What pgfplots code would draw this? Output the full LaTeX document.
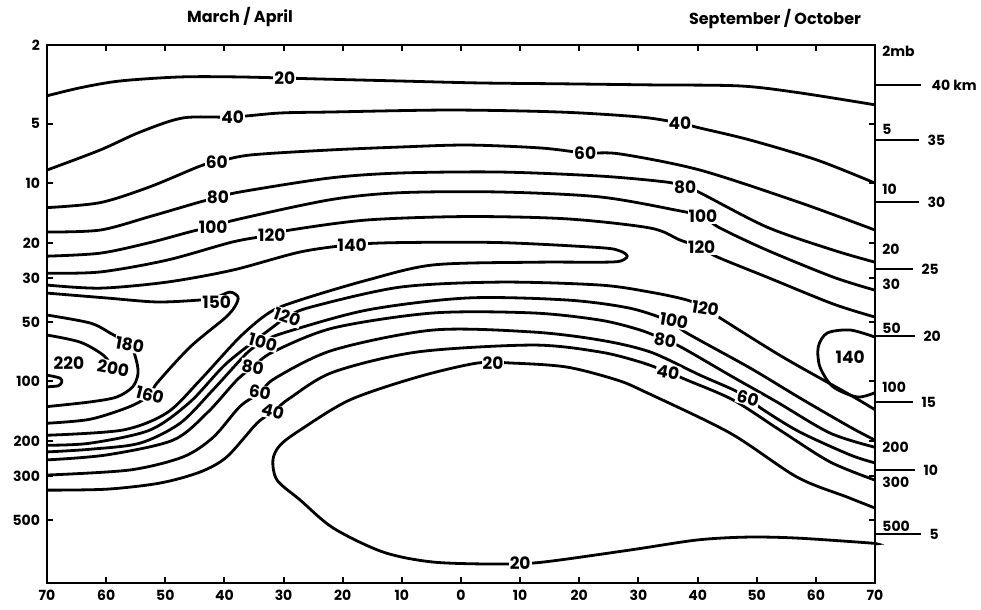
\documentclass[border=0pt]{standalone}
\usepackage{fontspec}
\setmainfont{Poppins}
\usepackage{pgfplots}
\pgfplotsset{compat=1.18}
\tikzset{
 lab/.style={fill=white, inner sep=0.5pt, font=\fontsize{8.5}{10}\selectfont\bfseries},
 rl/.style={anchor=west, inner sep=0pt, xshift=3.5pt, yshift=-3pt, font=\fontsize{7}{8}\selectfont\bfseries},
 km/.style={anchor=west, inner sep=0pt, xshift=4pt, font=\fontsize{7}{8}\selectfont\bfseries},
}
\begin{document}
\begin{tikzpicture}
\useasboundingbox (-23.5pt,-13.5pt) rectangle (467pt,291.5pt);
\begin{axis}[
 scale only axis, width=414pt, height=269pt,
 xmin=-70, xmax=70, ymode=log, ymin=2, ymax=1042, y dir=reverse,
 xtick={-70,-60,...,70}, xticklabels={70,60,50,40,30,20,10,0,10,20,30,40,50,60,70},
 ytick={2,5,10,20,30,50,100,200,300,500}, yticklabels={2,5,10,20,30,50,100,200,300,500},
 yminorticks=false,
 tick align=inside, xtick pos=both, ytick pos=both,
 major tick length=3pt,
 axis line style={line width=1.4pt}, tick style={line width=1pt,black},
 ticklabel style={font=\fontsize{7}{8}\selectfont\bfseries},
 /pgf/number format/assume math mode=true,
 clip=false,
 cycle list={{black,solid}},
 every axis plot/.append style={line width=1.4pt, smooth, black, solid, no markers},
]
% upper family
\addplot coordinates {(-70,3.61) (-64.4,3.29) (-57.7,3.04) (-47.5,2.90) (-37.4,2.90) (-23.8,2.97) (-10.3,3.04) (3.2,3.11) (16.7,3.14) (32.0,3.18) (47.2,3.22) (57.3,3.49) (70,4.01)};
\addplot coordinates {(-70,8.56) (-61.0,6.78) (-54.3,5.51) (-47.0,4.67) (-38.6,4.62) (-30.6,4.41) (-22.2,4.36) (-1.9,4.26) (16.7,4.36) (30.3,4.62) (37.0,4.96) (40.4,5.25) (48.9,6.04) (60.2,7.62) (70,9.96)};
\addplot coordinates {(-70,13.25) (-61.0,12.5) (-52.6,10.4) (-44.1,8.17) (-41.3,7.80) (-35.7,7.19) (-22.2,6.78) (-10.3,6.55) (1.0,6.40) (13.4,6.62) (21.0,7.02) (26.9,7.10) (40.4,8.56) (57.3,12.5) (70,17.2)};
\addplot coordinates {(-70,17.6) (-61.0,17.2) (-52.6,14.7) (-44.1,12.4) (-41.1,11.8) (-37.4,11.05) (-22.2,9.39) (-10.3,8.86) (6.6,8.76) (23.5,9.18) (34.8,9.85) (37.9,10.44) (40.4,11.14) (51.7,16.6) (62.9,21.7) (70,25.0)};
\addplot coordinates {(-70,23.3) (-61.0,22.5) (-52.6,19.9) (-45.3,17.4) (-41.9,16.6) (-38.2,15.3) (-22.2,12.1) (-10.3,11.14) (6.6,11.05) (23.5,11.7) (37.0,13.76) (40.9,14.7) (43.8,16.8) (51.7,21.7) (62.9,29.7) (70,34.6)};
\addplot coordinates {(-70,28.4) (-61.0,28.0) (-49.7,24.4) (-38.6,19.75) (-32.0,18.2) (-28.9,17.2) (-15.9,15.3) (1.0,14.7) (17.9,15.1) (32.0,16.8) (37.0,19.3) (40.7,21.1) (43.3,23.5) (51.7,29.7) (62.9,40.6) (70,47.3)};
% 140 tongue
\addplot coordinates {(-70,32.6) (-61.0,33.8) (-49.7,31.5) (-38.6,27.4) (-27.2,22.2) (-18.4,20.4) (-10.3,19.9) (6.6,19.9) (23.5,21.1) (26.9,21.95) (28.1,23.3) (26.9,24.7) (23.5,25.0) (12.2,25.0) (-4.7,25.8) (-15.9,30.8) (-27.2,38.8) (-32.3,44.7) (-37.4,59.7) (-44.1,98.4) (-49.7,143.9) (-57.2,176) (-70,187)};
% 150/160
\addplot coordinates {(-70,35.8) (-59.9,37.9) (-51.4,39.7) (-44.1,38.8) (-41.6,37.9) (-39.1,35.4) (-37.7,37.5) (-38.2,41.7) (-39.9,47.8) (-45.8,67.0) (-51.4,101.9) (-52.6,117) (-56.0,134) (-62.7,155.2) (-70,162.6)};
% 180, 200, 220
\addplot coordinates {(-70,46.2) (-62.7,50.7) (-59.3,57.0) (-56.0,65.5) (-55.0,76.2) (-54.6,90.7) (-55.5,106.4) (-58.2,119.8) (-62.7,126.9) (-70,134)};
\addplot coordinates {(-70,58.3) (-64.4,63.3) (-60.5,73.6) (-58.8,85.6)};
\addplot coordinates {(-70,92.9) (-67.8,96.2) (-67.5,100.8) (-68.1,105.2) (-70,106.4)};
% lower family
\addplot coordinates {(-70,210) (-62.7,205) (-52.6,176) (-45.8,126.9) (-39.6,80.8) (-31.8,53.1) (-29.4,47.3) (-25.5,42.2) (-10.3,33.4) (6.6,31.5) (23.5,32.6) (32.0,35.4) (38.2,38.8) (41.3,42.7) (43.8,47.8) (54.4,75.3) (65.8,117) (70,139)};
\addplot coordinates {(-70,227) (-62.7,220) (-54.3,205) (-47.5,162.6) (-41.9,110) (-36.2,71.9) (-33.5,63.3) (-30.1,57.0) (-15.9,43.6) (1.0,37.9) (17.9,38.8) (28.6,42.7) (35.7,50.2) (38.2,57.0) (48.9,85.6) (57.3,121.2) (65.8,170) (70,198)};
\addplot coordinates {(-70,249) (-59.9,235) (-48.7,198) (-42.9,143.9) (-37.9,98.4) (-35.2,84.6) (-31.8,71.0) (-21.6,53.7) (-4.7,45.1) (12.2,45.1) (23.5,49.0) (30.3,55.0) (34.5,61.8) (37.5,67.8) (46.0,95.1) (53.4,126.9) (62.4,182.3) (70,215)};
\addplot coordinates {(-70,297) (-56.0,280) (-47.0,240.5) (-41.9,191.5) (-37.4,134) (-34.0,113.9) (-31.4,96.2) (-21.6,69.4) (-4.7,55.0) (12.2,56.3) (23.5,61.8) (32.0,71.0) (40.4,92.9) (46.0,110) (48.5,121.2) (51.1,139) (57.3,180.2) (65.8,235) (70,257.8)};
\addplot coordinates {(-70,354) (-59.9,350) (-50.9,326) (-44.1,286.6) (-39.6,240.5) (-34.5,162.6) (-31.8,142.3) (-28.9,121.2) (-21.6,89.7) (-7.4,71.0) (12.2,65.5) (23.5,71.0) (30.3,79.8) (35.0,89.7) (38.2,98.4) (46.0,124) (53.9,176) (62.4,254.9) (70,315)};
% 20 minimum
\addplot coordinates {(70,436) (65.3,383.8) (56.8,304) (45.5,182.3) (31.4,113.9) (26.4,98.4) (17.9,84.6) (8.8,80.8) (2.7,80.8) (-7.4,95.1) (-18.8,124) (-27.2,176) (-30.6,210) (-31.8,249) (-31.1,315) (-27.2,397) (-21.6,549.9) (-13.2,726.7) (-4.7,816.8) (6.6,836) (13.9,816.8) (28.6,710) (39.9,632) (48.4,611) (56.8,618) (69.2,654.6) (70,662)};
% 140 right
\addplot coordinates {(70,59.7) (65.8,55.0) (61.9,57.0) (60.4,67.0) (60.7,84.6) (62.9,106.4) (67.0,119.8) (70,113.9)};

% contour labels
\node[lab] at (axis cs:-29.8,2.93) {20};
\node[lab] at (axis cs:5.4,80.8) {20};
\node[lab] at (axis cs:10.0,826) {20};
\node[lab] at (axis cs:-38.6,4.62) {40};
\node[lab] at (axis cs:37.0,4.96) {40};
\node[lab,rotate=-15] at (axis cs:-31.8,142.3) {40};
\node[lab,rotate=-10] at (axis cs:35.0,89.7) {40};
\node[lab] at (axis cs:-41.3,7.80) {60};
\node[lab] at (axis cs:21.0,7.02) {60};
\node[lab,rotate=-10] at (axis cs:-34.0,113.9) {60};
\node[lab,rotate=-15] at (axis cs:48.5,121.2) {60};
\node[lab] at (axis cs:-41.1,11.8) {80};
\node[lab] at (axis cs:37.9,10.44) {80};
\node[lab,rotate=-10] at (axis cs:-35.2,84.6) {80};
\node[lab,rotate=-10] at (axis cs:34.5,61.8) {80};
\node[lab] at (axis cs:-41.9,16.6) {100};
\node[lab] at (axis cs:40.9,14.7) {100};
\node[lab,rotate=-15] at (axis cs:-33.5,63.3) {100};
\node[lab,rotate=-10] at (axis cs:36.0,49.5) {100};
\node[lab] at (axis cs:-32.0,18.2) {120};
\node[lab] at (axis cs:40.7,21.1) {120};
\node[lab,rotate=-20] at (axis cs:-29.4,47.3) {120};
\node[lab,rotate=-10] at (axis cs:41.3,42.7) {120};
\node[lab] at (axis cs:-18.4,20.4) {140};
\node[lab] at (axis cs:65.8,75.3) {140};
\node[lab] at (axis cs:-41.3,39.7) {150};
\node[lab,rotate=-15] at (axis cs:-52.6,117) {160};
\node[lab,rotate=-10] at (axis cs:-56.0,65.5) {180};
\node[lab,rotate=-10] at (axis cs:-58.8,85.6) {200};
\node[lab] at (axis cs:-66.3,80.8) {220};

% right-hand pressure labels
\node[rl] at (axis cs:70,2) {2mb};
\node[rl] at (axis cs:70,5) {5};
\node[rl] at (axis cs:70,10) {10};
\node[rl] at (axis cs:70,20) {20};
\node[rl] at (axis cs:70,30) {30};
\node[rl] at (axis cs:70,50) {50};
\node[rl] at (axis cs:70,100) {100};
\node[rl] at (axis cs:70,200) {200};
\node[rl] at (axis cs:70,300) {300};
\node[rl] at (axis cs:70,500) {500};

% height scale (km)
\draw[line width=0.7pt] (axis cs:70,3.18) -- ([xshift=23pt]axis cs:70,3.18) node[km, xshift=1pt]{40 km};
\draw[line width=0.7pt] (axis cs:70,6.04) -- ([xshift=22pt]axis cs:70,6.04) node[km]{35};
\draw[line width=0.7pt] (axis cs:70,12.4) -- ([xshift=22pt]axis cs:70,12.4) node[km]{30};
\draw[line width=0.7pt] (axis cs:70,27.1) -- ([xshift=19pt]axis cs:70,27.1) node[km]{25};
\draw[line width=0.7pt] (axis cs:70,59.0) -- ([xshift=20pt]axis cs:70,59.0) node[km]{20};
\draw[line width=0.7pt] (axis cs:70,126.9) -- ([xshift=19pt]axis cs:70,126.9) node[km]{15};
\draw[line width=0.7pt] (axis cs:70,280) -- ([xshift=20pt]axis cs:70,280) node[km]{10};
\draw[line width=0.7pt] (axis cs:70,590) -- ([xshift=23pt]axis cs:70,590) node[km]{5};
\end{axis}
\node[font=\fontsize{8}{9}\selectfont\bfseries] at (96.5pt,283pt) {March / April};
\node[font=\fontsize{8}{9}\selectfont\bfseries] at (364pt,282pt) {September / October};
\end{tikzpicture}
\end{document}
